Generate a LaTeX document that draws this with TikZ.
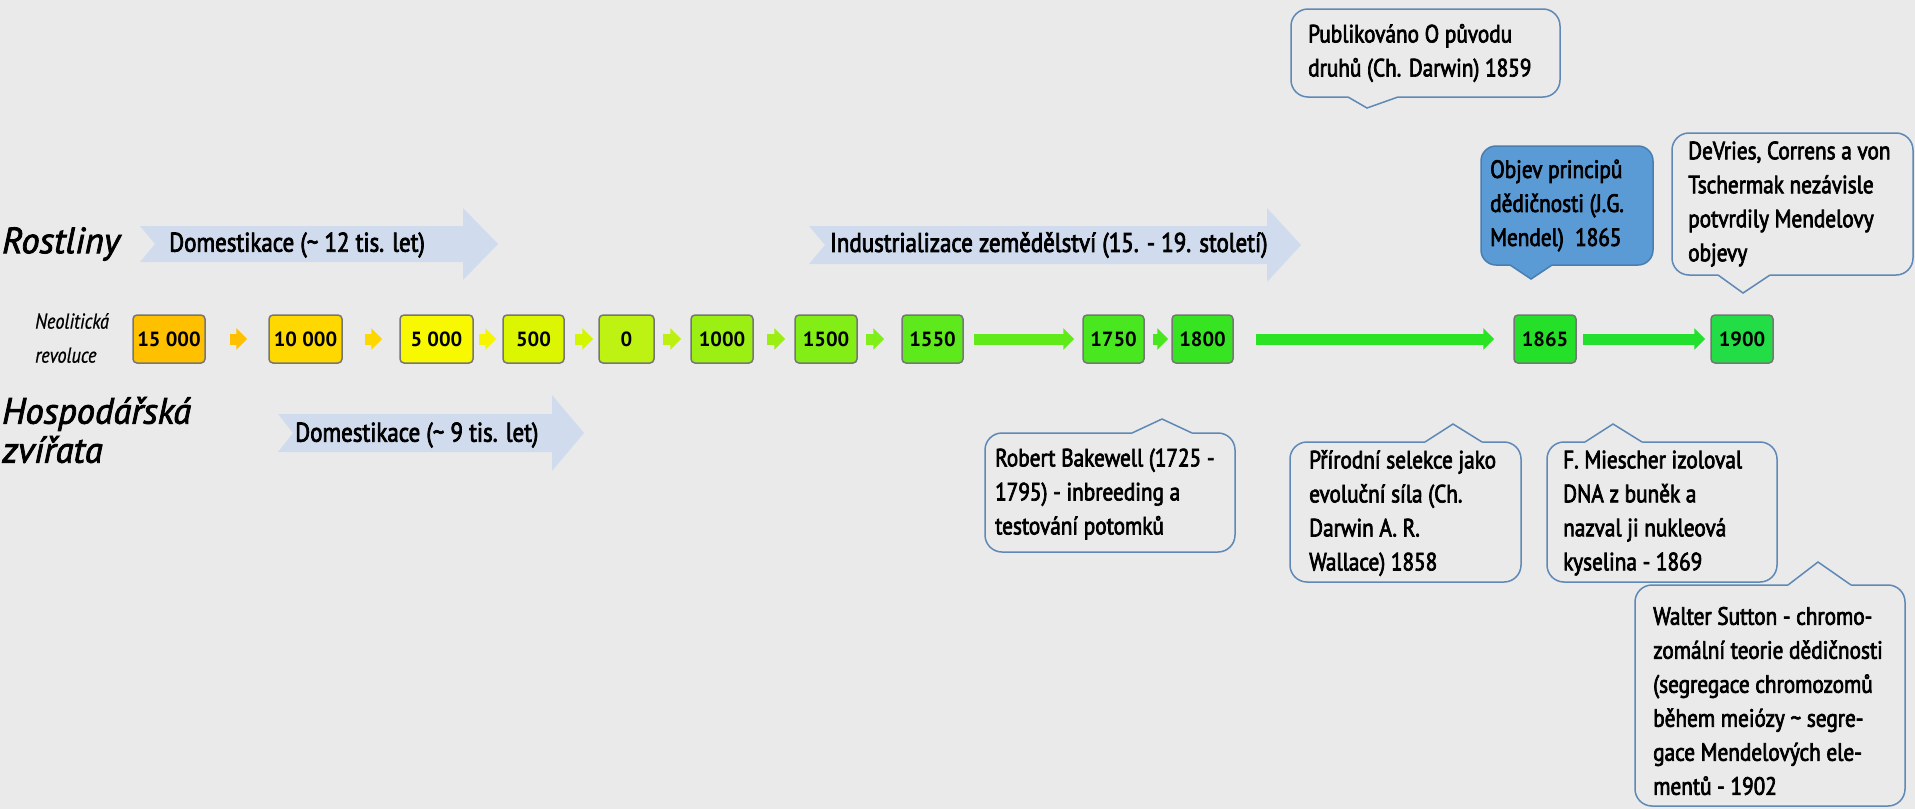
\documentclass[tikz,border=0pt]{standalone}
\usepackage{fontspec}
\setmainfont{PT Sans}[FakeStretch=0.85, UprightFeatures={FakeBold=2.8}, ItalicFeatures={FakeBold=0.8}]
\newfontfamily\wholefam{PT Sans}
\newfontfamily\groupfam{PT Sans}[ItalicFeatures={FakeBold=2.2}]
\usetikzlibrary{arrows.meta}

\definecolor{bgcol}{HTML}{EAEAEA}
\definecolor{bandblue}{HTML}{D0DCEE}
\definecolor{callblue}{HTML}{5E88B5}
\definecolor{mendelfill}{HTML}{5B9BD5}
\definecolor{mendelline}{HTML}{4A7DB0}
\definecolor{boxgray}{HTML}{767676}
% year boxes
\definecolor{c15000}{HTML}{FFC000}
\definecolor{c10000}{HTML}{FFD800}
\definecolor{c5000}{HTML}{F8F800}
\definecolor{c500}{HTML}{DCF500}
\definecolor{c0}{HTML}{BDF213}
\definecolor{c1000}{HTML}{9BEF12}
\definecolor{c1500}{HTML}{82EE16}
\definecolor{c1550}{HTML}{5DE91B}
\definecolor{c1750}{HTML}{48E71F}
\definecolor{c1800}{HTML}{37E422}
\definecolor{c1865}{HTML}{24E028}
\definecolor{c1900}{HTML}{22DD45}
% arrows between years
\definecolor{arr15000}{HTML}{FFC000}
\definecolor{arr10000}{HTML}{FFD700}
\definecolor{arr5000}{HTML}{F5F500}
\definecolor{arr500}{HTML}{D4F500}
\definecolor{arr0}{HTML}{BCF010}
\definecolor{arr1000}{HTML}{9AEE12}
\definecolor{arr1500}{HTML}{80EE18}
\definecolor{arr1550}{HTML}{60EA1A}
\definecolor{arr1750}{HTML}{48E61E}
\definecolor{arr1800}{HTML}{2AE424}
\definecolor{arr1865}{HTML}{24E02E}

\newcommand{\callfont}{\fontsize{25}{34}\selectfont}
\newcommand{\bandfont}{\fontsize{27}{34}\selectfont}
\newcommand{\yearfont}{\wholefam\bfseries\fontsize{20.5}{24}\selectfont}
\newcommand{\groupfont}{\groupfam\itshape\fontsize{36.5}{39}\selectfont}
\newcommand{\notefont}{\itshape\fontsize{21.5}{34}\selectfont}

\tikzset{
  yearbox/.style={draw=boxgray, line width=1.5pt, rounded corners=4pt,
    minimum height=48pt, inner sep=0pt, font=\yearfont},
  steparrow/.style={line width=11pt, -{Triangle[length=11pt,width=21pt]}},
  bandarrow/.style={fill=bandblue},
  bandtext/.style={anchor=west, inner sep=0pt, font=\bandfont},
  callbox/.style={draw=callblue, line width=1.5pt, rounded corners=17pt,
    fill=bgcol, inner sep=0pt},
  calltext/.style={anchor=west, inner sep=0pt, align=left, font=\callfont},
  pinline/.style={draw=callblue, line width=1.5pt},
}

\begin{document}
\begin{tikzpicture}[x=1pt, y=-1pt]
  \useasboundingbox (0,0) rectangle (1915,809);
  \fill[bgcol] (0,0) rectangle (1915,809);

  % Group labels
  \node[anchor=west, inner sep=0pt, font=\groupfont] (rostliny) at (2,244) {Rostliny};
  \node[anchor=west, inner sep=0pt, align=left, font=\groupfont] (zvirata) at (2,430) {Hospodářská\\zvířata};
  \node[anchor=west, inner sep=0pt, align=left, font=\notefont] (neolit) at (35,338) {Neolitická\\revoluce};

  % Bands
  \fill[bandarrow] (140,226) -- (463,226) -- (463,208) -- (498,244) -- (463,280)
    -- (463,262) -- (140,262) -- (155,244) -- cycle;
  \node[bandtext] (domrost) at (169,245) {Domestikace (\textasciitilde{} 12 tis. let)};
  \fill[bandarrow] (809,226) -- (1267,226) -- (1267,208) -- (1301,245) -- (1267,282)
    -- (1267,264) -- (809,264) -- (825,245) -- cycle;
  \node[bandtext] (indust) at (830,245) {Industrializace zemědělství (15. - 19. století)};
  \fill[bandarrow] (278,414) -- (552,414) -- (552,395) -- (584,433) -- (552,471)
    -- (552,452) -- (278,452) -- (293,433) -- cycle;
  \node[bandtext] (domzvir) at (295,435) {Domestikace (\textasciitilde{} 9 tis. let)};

  % Timeline
  \node[yearbox, fill=c15000, minimum width=72pt] (y15000) at (169,339) {15 000};
  \node[yearbox, fill=c10000, minimum width=73pt] (y10000) at (305.5,339) {10 000};
  \node[yearbox, fill=c5000, minimum width=73pt] (y5000) at (436.5,339) {5 000};
  \node[yearbox, fill=c500, minimum width=61pt] (y500) at (533.5,339) {500};
  \node[yearbox, fill=c0, minimum width=55pt] (y0) at (626.5,339) {0};
  \node[yearbox, fill=c1000, minimum width=62pt] (y1000) at (722,339) {1000};
  \node[yearbox, fill=c1500, minimum width=62pt] (y1500) at (826,339) {1500};
  \node[yearbox, fill=c1550, minimum width=61pt] (y1550) at (932.5,339) {1550};
  \node[yearbox, fill=c1750, minimum width=61pt] (y1750) at (1113.5,339) {1750};
  \node[yearbox, fill=c1800, minimum width=61pt] (y1800) at (1202.5,339) {1800};
  \node[yearbox, fill=c1865, minimum width=62pt] (y1865) at (1545,339) {1865};
  \node[yearbox, fill=c1900, minimum width=62pt] (y1900) at (1742,339) {1900};

  \draw[steparrow, arr15000] ([xshift=24pt]y15000.east) -- ([xshift=-21pt]y10000.west);
  \draw[steparrow, arr10000] ([xshift=22pt]y10000.east) -- ([xshift=-17pt]y5000.west);
  \draw[steparrow, arr5000] ([xshift=5pt]y5000.east) -- ([xshift=-6pt]y500.west);
  \draw[steparrow, arr500] ([xshift=10pt]y500.east) -- ([xshift=-5pt]y0.west);
  \draw[steparrow, arr0] ([xshift=8pt]y0.east) -- ([xshift=-9pt]y1000.west);
  \draw[steparrow, arr1000] ([xshift=13pt]y1000.east) -- ([xshift=-9pt]y1500.west);
  \draw[steparrow, arr1500] ([xshift=8pt]y1500.east) -- ([xshift=-17pt]y1550.west);
  \draw[steparrow, arr1550] ([xshift=10pt]y1550.east) -- ([xshift=-8pt]y1750.west);
  \draw[steparrow, arr1750] ([xshift=8pt]y1750.east) -- ([xshift=-3pt]y1800.west);
  \draw[steparrow, arr1800] ([xshift=22pt]y1800.east) -- ([xshift=-19pt]y1865.west);
  \draw[steparrow, arr1865] ([xshift=6pt]y1865.east) -- ([xshift=-5pt]y1900.west);

  % Callouts above
  \node[callbox, minimum width=269pt, minimum height=88pt] (darwin) at (1425.5,53) {};
  \fill[bgcol] (1348,95) -- (1348,97) -- (1367,108) -- (1398,97) -- (1398,95) -- cycle;
  \draw[pinline] (1348,97) -- (1367,108) -- (1398,97);
  \node[calltext] (darwintext) at (1308,53) {Publikováno O původu\\druhů (Ch. Darwin) 1859};

  \node[callbox, draw=mendelline, fill=mendelfill, rounded corners=15pt,
    minimum width=172pt, minimum height=119pt] (mendel) at (1567,205.5) {};
  \fill[mendelfill] (1510,262) -- (1510,265) -- (1531,279) -- (1552,265) -- (1552,262) -- cycle;
  \draw[pinline, mendelline] (1510,265) -- (1531,279) -- (1552,265);
  \node[calltext] (mendeltext) at (1490,205.5) {Objev principů\\dědičnosti (J.G.\\Mendel)~ 1865};

  \node[callbox, minimum width=241pt, minimum height=142pt] (devries) at (1792.5,204) {};
  \fill[bgcol] (1718,273) -- (1718,275) -- (1743,293) -- (1770,275) -- (1770,273) -- cycle;
  \draw[pinline] (1718,275) -- (1743,293) -- (1770,275);
  \node[calltext] (devriestext) at (1688,204) {DeVries, Correns a von\\Tschermak nezávisle\\potvrdily Mendelovy\\objevy};

  % Callouts below
  \node[callbox, minimum width=250pt, minimum height=119pt] (bakewell) at (1110,492.5) {};
  \fill[bgcol] (1132,435) -- (1132,433) -- (1162,419) -- (1192,433) -- (1192,435) -- cycle;
  \draw[pinline] (1132,433) -- (1162,419) -- (1192,433);
  \node[calltext] (bakewelltext) at (995,494) {Robert Bakewell (1725 -\\1795) - inbreeding a\\testování potomků};

  \node[callbox, minimum width=231pt, minimum height=140pt] (selekce) at (1405.5,512) {};
  \fill[bgcol] (1425,444) -- (1425,442) -- (1453,424) -- (1482,442) -- (1482,444) -- cycle;
  \draw[pinline] (1425,442) -- (1453,424) -- (1482,442);
  \node[calltext] (selekcetext) at (1309,513) {Přírodní selekce jako\\evoluční síla (Ch.\\Darwin A. R.\\Wallace) 1858};

  \node[callbox, minimum width=230pt, minimum height=140pt] (miescher) at (1662,512) {};
  \fill[bgcol] (1585,444) -- (1585,442) -- (1613,424) -- (1642,442) -- (1642,444) -- cycle;
  \draw[pinline] (1585,442) -- (1613,424) -- (1642,442);
  \node[calltext] (mieschertext) at (1563,513) {F. Miescher izoloval\\DNA z buněk a\\nazval ji nukleová\\kyselina - 1869};

  \node[callbox, minimum width=270pt, minimum height=221pt] (sutton) at (1770,695.5) {};
  \fill[bgcol] (1788,587) -- (1788,585) -- (1818,562) -- (1851,585) -- (1851,587) -- cycle;
  \draw[pinline] (1788,585) -- (1818,562) -- (1851,585);
  \node[calltext] (suttontext) at (1653,701) {Walter Sutton - chromo-\\zomální teorie dědičnosti\\(segregace chromozomů\\během meiózy \textasciitilde{} segre-\\gace Mendelových ele-\\mentů - 1902};
\end{tikzpicture}
\end{document}
